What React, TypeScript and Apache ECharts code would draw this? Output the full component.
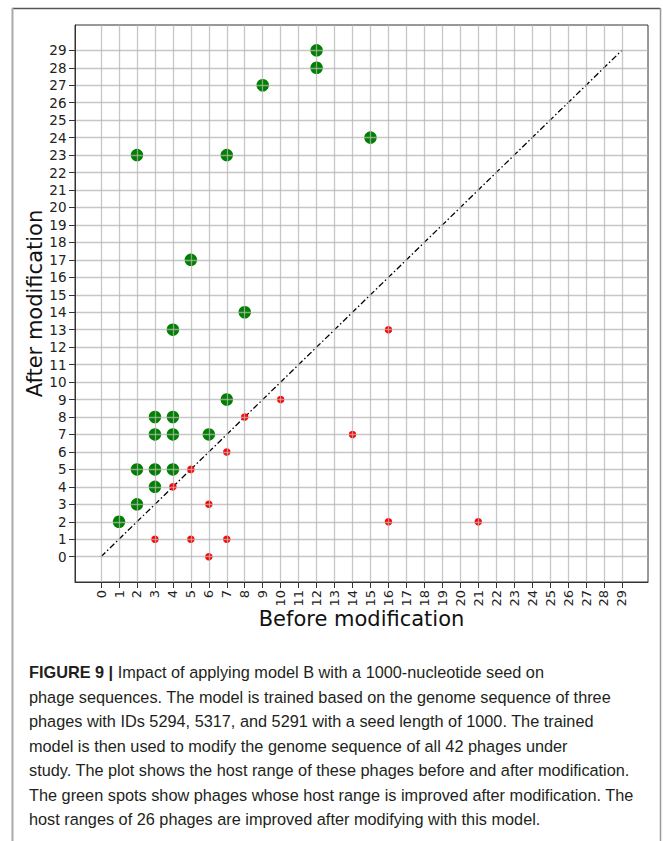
import React, { useEffect, useRef } from "react";
import * as echarts from "echarts";

// Host range before / after modification
const greenBefore = [1, 2, 2, 3, 3, 3, 3, 4, 4, 4, 6, 7, 4, 8, 5, 2, 7, 9, 12, 12, 15];
const greenAfter = [2, 3, 5, 4, 5, 7, 8, 5, 7, 8, 7, 9, 13, 14, 17, 23, 23, 27, 28, 29, 24];
const redBefore = [3, 5, 7, 6, 6, 7, 4, 5, 8, 10, 14, 16, 16, 21];
const redAfter = [1, 1, 1, 0, 3, 6, 4, 5, 8, 9, 7, 13, 2, 2];
const diagonal = [0, 29];
const tickValues = [0, 1, 2, 3, 4, 5, 6, 7, 8, 9, 10, 11, 12, 13, 14, 15, 16, 17, 18, 19, 20, 21, 22, 23, 24, 25, 26, 27, 28, 29];
const captionLines = [
  "{b|FIGURE 9 |} Impact of applying model B with a 1000-nucleotide seed on",
  "phage sequences. The model is trained based on the genome sequence of three",
  "phages with IDs 5294, 5317, and 5291 with a seed length of 1000. The trained",
  "model is then used to modify the genome sequence of all 42 phages under",
  "study. The plot shows the host range of these phages before and after modification.",
  "The green spots show phages whose host range is improved after modification. The",
  "host ranges of 26 phages are improved after modifying with this model.",
];

const AXIS_FONT = "DejaVu Sans";
const CAP_FONT = "'Liberation Sans', Arial, sans-serif";

export default function App() {
  const ref = useRef<HTMLDivElement>(null);
  useEffect(() => {
    if (!ref.current) return;
    const chart = echarts.init(ref.current, undefined, { renderer: "svg" });
    const gridColor = "rgba(180,180,180,0.75)";
    const axisCommon = {
      type: "value" as const,
      min: -1.45,
      max: 30.45,
      z: 5,
      axisLine: { show: true, onZero: false, lineStyle: { color: "#333", width: 1 } },
      axisTick: { show: true, customValues: tickValues, length: 6, lineStyle: { color: "#333", width: 1 } },
      splitLine: { show: true, lineStyle: { color: gridColor, width: 1.3 } },
      nameLocation: "middle" as const,
      nameMoveOverlap: false,
      nameTextStyle: { fontFamily: AXIS_FONT, fontSize: 21, color: "#111" },
    };
    const caption = captionLines.map((t, i) => ({
      type: "text",
      x: 29,
      y: 672 + i * 24.5,
      style: {
        text: t,
        fill: "#231f20",
        fontFamily: CAP_FONT,
        fontSize: 16.3,
        verticalAlign: "middle",
        rich: {
          b: { fontWeight: "bold", fontFamily: CAP_FONT, fontSize: 16.3, fill: "#231f20" },
        },
      },
    }));
    chart.setOption({
      animation: false,
      backgroundColor: "#fff",
      grid: { left: 75, right: 15, top: 25, bottom: 259, show: true, borderColor: "#333", borderWidth: 1, backgroundColor: "transparent" },
      xAxis: {
        ...axisCommon,
        name: "Before modification",
        nameGap: 26,
        axisLabel: { customValues: tickValues, rotate: 90, fontFamily: AXIS_FONT, fontSize: 13, color: "#222", margin: 8 },
      },
      yAxis: {
        ...axisCommon,
        name: "After modification",
        nameGap: 30,
        axisLabel: { customValues: tickValues, fontFamily: AXIS_FONT, fontSize: 13.5, color: "#222", margin: 8.5 },
      },
      series: [
        {
          type: "line",
          data: diagonal.map((v) => [v, v]),
          showSymbol: false,
          symbol: "none",
          lineStyle: { color: "#000", width: 1.3, type: [6, 2.5, 1.5, 2.5] },
          z: 1,
        },
        {
          type: "scatter",
          data: greenBefore.map((b, i) => [b, greenAfter[i]]),
          symbol: "circle",
          symbolSize: 12.5,
          itemStyle: { color: "#008000", opacity: 1 },
          z: 2,
        },
        {
          type: "scatter",
          data: redBefore.map((b, i) => [b, redAfter[i]]),
          symbol: "circle",
          symbolSize: 7.5,
          itemStyle: { color: "#ff0000", opacity: 1 },
          z: 3,
        },
      ],
      graphic: [
        { type: "line", shape: { x1: 12, y1: 8.5, x2: 660, y2: 8.5 }, style: { stroke: "#555", lineWidth: 1.5 } },
        { type: "line", shape: { x1: 12.5, y1: 8, x2: 12.5, y2: 841 }, style: { stroke: "#aaa", lineWidth: 2 } },
        { type: "line", shape: { x1: 660.5, y1: 8, x2: 660.5, y2: 841 }, style: { stroke: "#999", lineWidth: 1.5 } },
        ...caption,
      ],
    });
    return () => chart.dispose();
  }, []);
  return <div ref={ref} style={{ position: "absolute", left: 0, top: 0, width: 663, height: 841 }} />;
}
